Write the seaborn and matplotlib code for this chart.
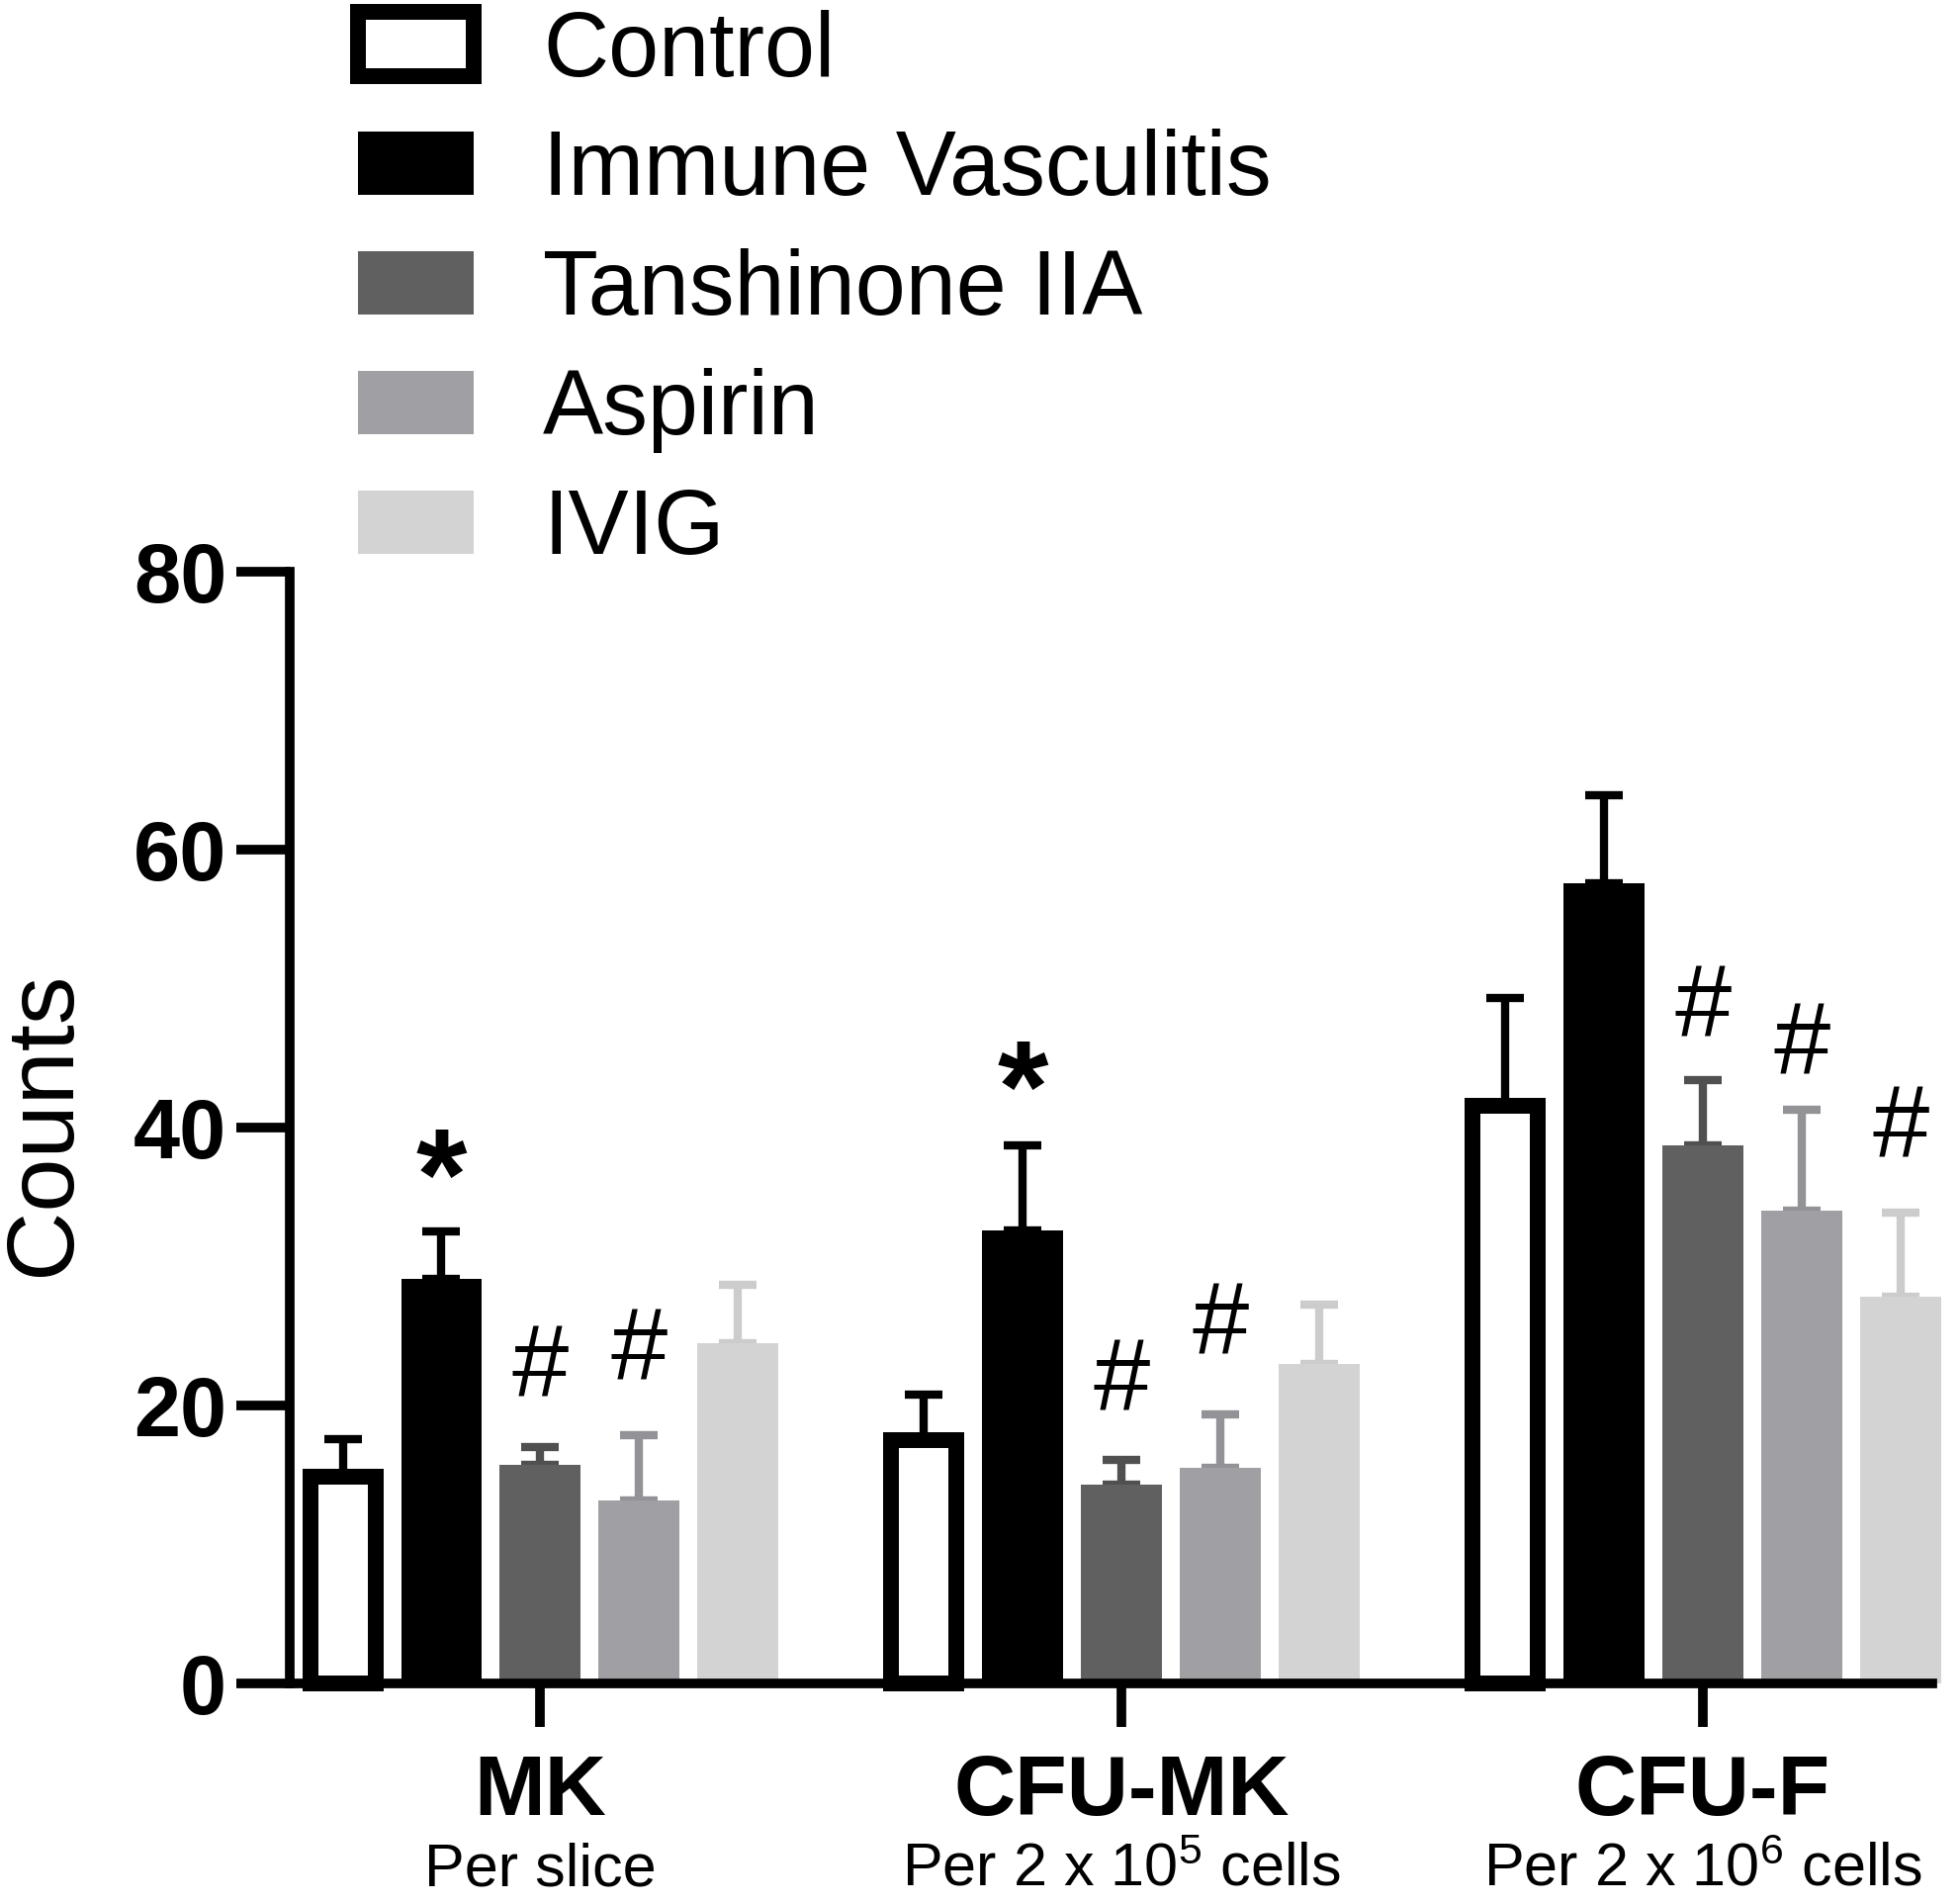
import matplotlib
matplotlib.use('Agg')
import matplotlib.pyplot as plt
import matplotlib.transforms as mtrans
from matplotlib.patches import Patch
import seaborn as sns
import pandas as pd

# ---------------- data ----------------
categories = ['MK', 'CFU-MK', 'CFU-F']
subtitles = ['Per slice', r'Per 2 x 10$^5$ cells', r'Per 2 x 10$^6$ cells']
groups = ['Control', 'Immune Vasculitis', 'Tanshinone IIA', 'Aspirin', 'IVIG']

control = [14.9, 17.5, 41.6]
immune_vasculitis = [29.1, 32.6, 57.6]
tanshinone = [15.7, 14.3, 38.7]
aspirin = [13.2, 15.5, 34.0]
ivig = [24.5, 23.0, 27.8]

control_sem = [2.7, 3.3, 7.7]
immune_vasculitis_sem = [3.4, 6.1, 6.3]
tanshinone_sem = [1.3, 1.8, 4.7]
aspirin_sem = [4.7, 3.9, 7.3]
ivig_sem = [4.2, 4.3, 6.1]

# significance marks: category index, group index, symbol, level of mark centre
mark_cat = [0, 0, 0, 1, 1, 1, 2, 2, 2]
mark_grp = [1, 2, 3, 1, 2, 3, 2, 3, 4]
mark_sym = ['*', '#', '#', '*', '#', '#', '#', '#', '#']
mark_y = [38.2, 23.0, 24.2, 44.5, 22.0, 26.1, 48.9, 46.2, 40.2]

palette = ['#ffffff', '#000000', '#606060', '#a0a0a4', '#d3d3d3']
err_colors = ['#000000', '#000000', '#505050', '#929297', '#cccccc']

values = [control, immune_vasculitis, tanshinone, aspirin, ivig]
sems = [control_sem, immune_vasculitis_sem, tanshinone_sem, aspirin_sem, ivig_sem]

rows = []
for g, vals in zip(groups, values):
    for c, v in zip(categories, vals):
        rows.append({'category': c, 'group': g, 'value': v})
df = pd.DataFrame(rows)

# ---------------- style ----------------
sns.set_style('ticks')
plt.rcParams['font.family'] = ['Liberation Sans', 'DejaVu Sans']
plt.rcParams['mathtext.fontset'] = 'custom'
plt.rcParams['mathtext.rm'] = 'Liberation Sans'
plt.rcParams['mathtext.default'] = 'rm'
for key in ['text.color', 'axes.labelcolor', 'xtick.color', 'ytick.color',
            'axes.edgecolor']:
    plt.rcParams[key] = 'black'

fig = plt.figure(figsize=(19.83, 19.25), dpi=100)
ax = fig.add_axes([0.1478, 0.1158, 0.8376, 0.5839])

sns.barplot(data=df, x='category', y='value', hue='group', order=categories,
            hue_order=groups, palette=palette, width=0.85, gap=0.18,
            errorbar=None, saturation=1, legend=False, linewidth=0, ax=ax)

ax.set_xlim(-0.431, 2.395)
ax.set_ylim(0, 80)

ctrl_lw = 11.5  # points
px_per_unit = (ax.transData.transform((1, 0))[0] - ax.transData.transform((0, 0))[0])
shrink = ctrl_lw * fig.dpi / 72 / px_per_unit

bar_conts = list(ax.containers)
for gi, cont in enumerate(bar_conts):
    for ci, bar in enumerate(cont):
        bar.set_clip_on(False)
        if gi == 0:
            bar.set_facecolor('white')
            bar.set_edgecolor('black')
            bar.set_linewidth(ctrl_lw)
            bar.set_x(bar.get_x() + shrink / 2)
            bar.set_width(bar.get_width() - shrink)
        x = bar.get_x() + bar.get_width() / 2
        y = bar.get_height()
        ax.errorbar(x, y, yerr=[[0], [sems[gi][ci]]], fmt='none',
                    ecolor=err_colors[gi], elinewidth=6, capsize=14,
                    capthick=6, zorder=0.8, clip_on=False)

# significance marks (offset so that the glyph centre sits at the level)
for c, g, s, yv in zip(mark_cat, mark_grp, mark_sym, mark_y):
    bar = bar_conts[g][c]
    x = bar.get_x() + bar.get_width() / 2
    if s == '*':
        fs, fw, k = 95, 'bold', 0.25
    else:
        fs, fw, k = 74, 'normal', 0.07
    tr = ax.transData + mtrans.ScaledTranslation(0, -k * fs / 72, fig.dpi_scale_trans)
    ax.text(x, yv, s, ha='center', va='center', fontsize=fs, fontweight=fw,
            color='black', transform=tr)

ax.set_yticks([0, 20, 40, 60, 80])
ax.set_xlabel('')
ax.set_ylabel('')
sns.despine(ax=ax)
for sp in ['left', 'bottom']:
    ax.spines[sp].set_linewidth(7)
    ax.spines[sp].set_color('black')
    ax.spines[sp].set_capstyle('projecting')
ax.tick_params(axis='y', length=39, width=7, labelsize=61, pad=7, colors='black')
ax.tick_params(axis='x', length=32, width=7, labelbottom=False, colors='black')
for lab in ax.get_yticklabels():
    lab.set_fontweight('bold')

trans = mtrans.blended_transform_factory(ax.transData, ax.transAxes)
for i, (cat, sub) in enumerate(zip(categories, subtitles)):
    ax.text(i, -0.118, cat, transform=trans, ha='center', va='baseline',
            fontsize=62, fontweight='bold')
    ax.text(i, -0.182, sub, transform=trans, ha='center', va='baseline',
            fontsize=44)

fig.text(0.0227, 0.4099, 'Counts', rotation=90, ha='center',
         va='center', fontsize=70)

handles = []
for gi, col in enumerate(palette):
    if gi == 0:
        handles.append(Patch(facecolor='white', edgecolor='black', linewidth=ctrl_lw))
    else:
        handles.append(Patch(facecolor=col, edgecolor='none'))
fig.legend(handles, groups, loc='upper left', bbox_to_anchor=(0.1826, 0.995),
           frameon=False, fontsize=66, handlelength=1.28, handleheight=0.70,
           handletextpad=0.76, labelspacing=0.38, borderpad=0, borderaxespad=0)

fig.savefig('out.png', dpi=100)
